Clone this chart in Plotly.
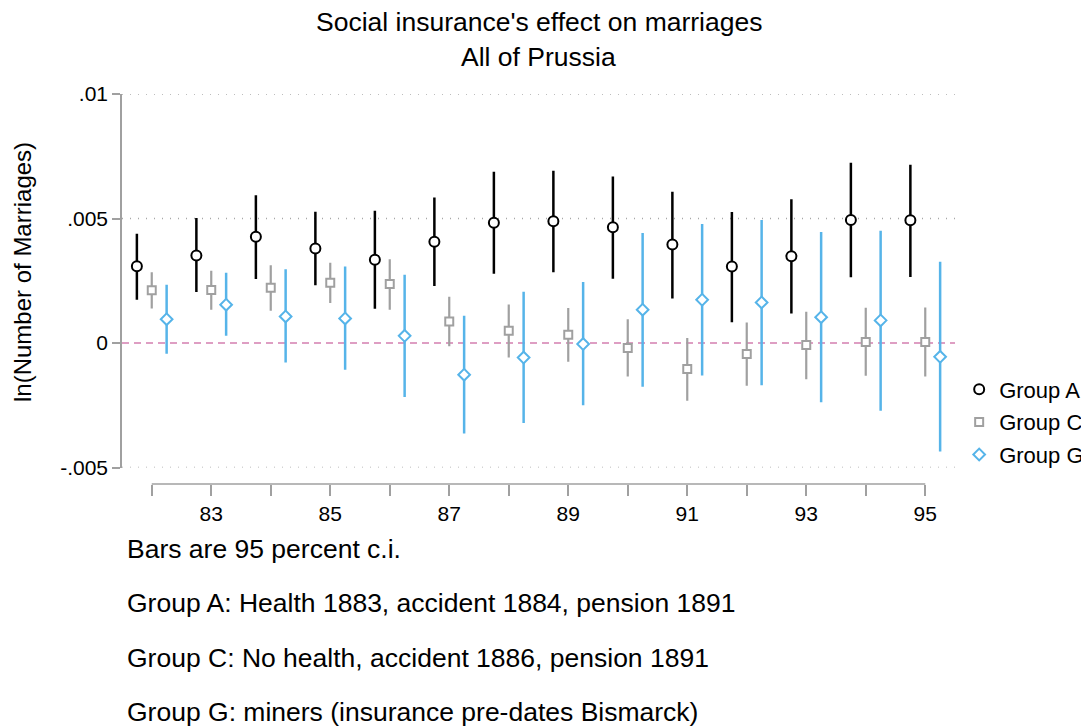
import plotly.graph_objects as go

years = [82, 83, 84, 85, 86, 87, 88, 89, 90, 91, 92, 93, 94, 95]
tick_labels = ["", "83", "", "85", "", "87", "", "89", "", "91", "", "93", "", "95"]

a_est = [0.00308, 0.00352, 0.00427, 0.00380, 0.00335, 0.00407, 0.00483, 0.00489, 0.00465, 0.00396, 0.00307, 0.00349, 0.00494, 0.00493]
a_hi = [0.00439, 0.00502, 0.00594, 0.00527, 0.00531, 0.00584, 0.00688, 0.00692, 0.00669, 0.00608, 0.00526, 0.00577, 0.00724, 0.00716]
a_lo = [0.00174, 0.00205, 0.00257, 0.00232, 0.00138, 0.00229, 0.00278, 0.00284, 0.00258, 0.00179, 0.00084, 0.00119, 0.00264, 0.00265]

c_est = [0.00212, 0.00213, 0.00222, 0.00242, 0.00237, 0.00087, 0.00050, 0.00033, -0.00020, -0.00104, -0.00044, -0.00008, 0.00004, 0.00004]
c_hi = [0.00284, 0.00290, 0.00312, 0.00323, 0.00337, 0.00186, 0.00155, 0.00141, 0.00096, 0.00020, 0.00083, 0.00126, 0.00142, 0.00143]
c_lo = [0.00139, 0.00134, 0.00130, 0.00161, 0.00134, -0.00013, -0.00058, -0.00075, -0.00134, -0.00232, -0.00171, -0.00145, -0.00131, -0.00134]

g_est = [0.00096, 0.00154, 0.00107, 0.00099, 0.00029, -0.00127, -0.00058, -0.00004, 0.00134, 0.00174, 0.00163, 0.00104, 0.00091, -0.00055]
g_hi = [0.00234, 0.00282, 0.00296, 0.00307, 0.00274, 0.00110, 0.00206, 0.00245, 0.00442, 0.00478, 0.00494, 0.00446, 0.00451, 0.00327]
g_lo = [-0.00043, 0.00029, -0.00078, -0.00107, -0.00216, -0.00363, -0.00321, -0.00250, -0.00175, -0.00130, -0.00169, -0.00238, -0.00272, -0.00435]

y_ticks = [-0.005, 0, 0.005, 0.01]
y_tick_text = ["-.005", "0", ".005", ".01"]

notes = [
    "Bars are 95 percent c.i.",
    "Group A: Health 1883, accident 1884, pension 1891",
    "Group C: No health, accident 1886, pension 1891",
    "Group G: miners (insurance pre-dates Bismarck)",
]

FONT = "Liberation Sans, Arial, sans-serif"
BLACK = "#000000"
GRAY = "#a0a0a0"
BLUE = "#56b4e9"
PINK = "#d47fb0"

series = [
    ("Group A", -0.25, a_est, a_hi, a_lo, "circle", 10, BLACK, 2.5, 2),
    ("Group C", 0.0, c_est, c_hi, c_lo, "square", 8, GRAY, 2.2, 2),
    ("Group G", 0.25, g_est, g_hi, g_lo, "diamond", 9, BLUE, 2.5, 2),
]

fig = go.Figure()
for name, off, est, hi, lo, sym, size, col, ew, lw in series:
    xs = [y + off for y in years]
    fig.add_trace(go.Scatter(
        x=xs, y=est, mode="markers", name=name, legendgroup=name,
        marker=dict(symbol=sym, size=size, color="white", line=dict(color=col, width=lw)),
        error_y=dict(type="data", symmetric=False,
                     array=[h - e for h, e in zip(hi, est)],
                     arrayminus=[e - l for e, l in zip(est, lo)],
                     color=col, thickness=ew, width=0),
    ))

# dotted gridlines (drawn as shapes so the edge lines also appear)
for yv in y_ticks:
    if yv == 0:
        continue
    fig.add_shape(type="line", xref="paper", x0=0, x1=1, yref="y", y0=yv, y1=yv,
                  line=dict(color="#a8a8a8", width=1.5, dash="1px,7px"), layer="below")

fig.add_shape(type="line", xref="paper", x0=0, x1=1, yref="y", y0=0, y1=0,
              line=dict(color=PINK, width=1.5, dash="7px,5px"), layer="below")
fig.add_shape(type="line", xref="x", x0=years[0], x1=years[-1], yref="paper", y0=0, y1=0,
              line=dict(color=GRAY, width=1.5))

# the page body adds an 8px offset; margins compensate for it
fig.update_layout(
    width=1120, height=718,
    margin=dict(l=114, r=173, t=86, b=242, autoexpand=False),
    paper_bgcolor="white", plot_bgcolor="white",
    font=dict(family=FONT, color="black"),
    showlegend=True,
    legend=dict(x=1.005, xanchor="left", y=1 - (422 - 94) / 390, yanchor="middle",
                font=dict(size=22, family=FONT), tracegroupgap=1,
                bgcolor="rgba(0,0,0,0)", itemwidth=30),
    xaxis=dict(range=[81.5, 95.5], anchor="free", position=0,
               tickmode="array", tickvals=years, ticktext=tick_labels,
               ticks="outside", ticklen=11, tickwidth=1.5, tickcolor=GRAY,
               showline=False, showgrid=False, zeroline=False,
               tickfont=dict(size=21, family=FONT)),
    yaxis=dict(range=[-0.005, 0.01], domain=[0.042, 1],
               tickmode="array", tickvals=y_ticks, ticktext=y_tick_text,
               ticks="outside", ticklen=8, tickwidth=1.5, tickcolor=GRAY,
               showline=True, linecolor=GRAY, linewidth=1.5,
               showgrid=False, zeroline=False, tickfont=dict(size=21, family=FONT)),
)

fig.add_annotation(text="Social insurance's effect on marriages", xref="paper", yref="paper",
                   x=0.5, y=1 + (94 - 22) / 390, xanchor="center", yanchor="middle",
                   showarrow=False, font=dict(size=26.5, family=FONT))
fig.add_annotation(text="All of Prussia", xref="paper", yref="paper",
                   x=0.5, y=1 + (94 - 57) / 390, xanchor="center", yanchor="middle",
                   showarrow=False, font=dict(size=26.5, family=FONT))
fig.add_annotation(text="ln(Number of Marriages)", xref="paper", yref="paper",
                   x=(22 - 122) / 833, y=1 - (272 - 94) / 390, xanchor="center", yanchor="middle",
                   textangle=-90, showarrow=False, font=dict(size=24, family=FONT))

note_y = [549, 603, 658, 712]
for txt, py in zip(notes, note_y):
    fig.add_annotation(text=txt, xref="paper", yref="paper",
                       x=(125 - 122) / 833, y=1 - (py - 94) / 390, xanchor="left", yanchor="middle",
                       showarrow=False, font=dict(size=26.5, family=FONT))

fig.write_html("out.html")
